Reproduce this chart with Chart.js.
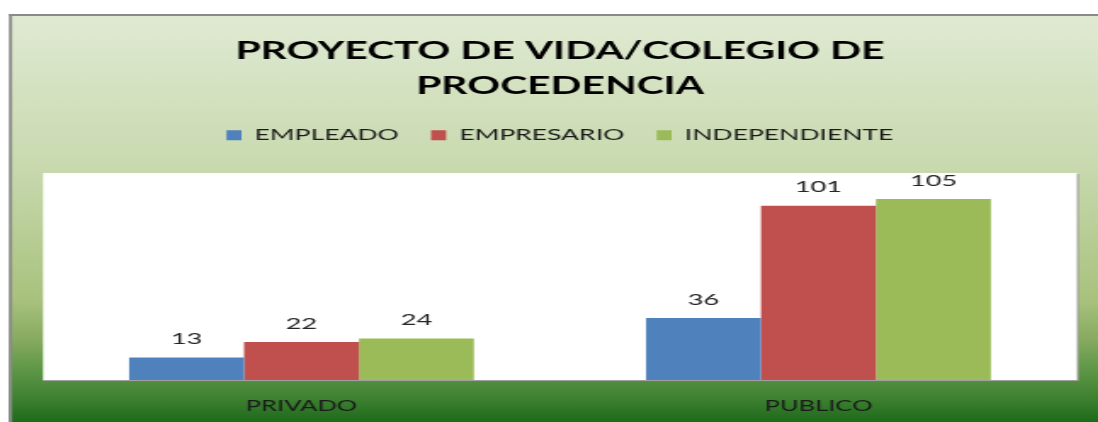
<!DOCTYPE html>
<html>
<head>
<meta charset="utf-8">
<script src="https://cdn.jsdelivr.net/npm/chart.js@4"></script>
<style>
  html, body { margin: 0; padding: 0; background: #fff; overflow: hidden; }
  #grafico { display: block; transform: scaleX(1.7); transform-origin: 0 0; }
</style>
</head>
<body>
<canvas id="grafico" width="646" height="422"></canvas>
<script>
// datos
const categorias = ['PRIVADO', 'PUBLICO'];
const empleado = [13, 36];
const empresario = [22, 101];
const independiente = [24, 105];

// fondo degradado + area blanca del grafico
const fondo = {
  id: 'fondo',
  beforeDraw(chart) {
    const ctx = chart.ctx;
    const a = chart.chartArea;
    ctx.save();
    ctx.fillStyle = '#fff';
    ctx.fillRect(0, 0, chart.width, chart.height);

    const g = ctx.createLinearGradient(0, 14, 0, 422);
    g.addColorStop(0, '#e0ead3');
    g.addColorStop(0.38, '#c8d9ae');
    g.addColorStop(0.70, '#a8c27d');
    g.addColorStop(0.80, '#86aa5f');
    g.addColorStop(0.87, '#5f9747');
    g.addColorStop(0.94, '#3f8232');
    g.addColorStop(1, '#1e6a1b');
    ctx.fillStyle = g;
    ctx.fillRect(5.3, 14, chart.width, chart.height);

    ctx.fillStyle = '#8a8a8a';
    ctx.fillRect(5.3, 14, chart.width, 2);
    ctx.fillRect(5.3, 14, 1.8, chart.height);

    ctx.fillStyle = '#9a9a9a';
    ctx.fillRect(a.left + 1, a.top + 1, a.right - a.left, a.bottom - a.top);
    ctx.fillStyle = '#fff';
    ctx.fillRect(a.left, a.top, a.right - a.left, a.bottom - a.top);
    ctx.restore();
  }
};

// etiquetas de valor sobre las barras
const etiquetas = {
  id: 'etiquetas',
  afterDatasetsDraw(chart) {
    const ctx = chart.ctx;
    ctx.save();
    ctx.font = '16px Lato';
    ctx.fillStyle = '#262626';
    ctx.textAlign = 'center';
    ctx.textBaseline = 'middle';
    chart.data.datasets.forEach((ds, i) => {
      chart.getDatasetMeta(i).data.forEach((bar, j) => {
        ctx.fillText(ds.data[j], bar.x, bar.y - 18.5);
      });
    });
    ctx.restore();
  }
};

const data = {
  labels: categorias,
  datasets: [
    { label: 'EMPLEADO', data: empleado, backgroundColor: '#4f81bd' },
    { label: 'EMPRESARIO', data: empresario, backgroundColor: '#c0504d' },
    { label: 'INDEPENDIENTE', data: independiente, backgroundColor: '#9bbb59' }
  ]
};

const config = {
  type: 'bar',
  data: data,
  options: {
    responsive: false,
    animation: false,
    categoryPercentage: 0.667,
    barPercentage: 1.0,
    layout: {
      padding: { left: 25.3, right: 12.5, top: 0, bottom: 8 }
    },
    plugins: {
      title: {
        display: true,
        text: ['PROYECTO DE VIDA/COLEGIO DE', 'PROCEDENCIA'],
        color: '#000',
        font: { family: 'Lato', size: 24, weight: 'bold', lineHeight: 1.44 },
        padding: { top: 34, bottom: 5.4 }
      },
      subtitle: {
        // espacio entre leyenda y area del grafico
        display: true,
        text: '',
        weight: 500,
        font: { size: 1 },
        padding: { top: 18.7, bottom: 0 }
      },
      legend: {
        labels: {
          color: '#1a1a1a',
          font: { family: 'Lato', size: 15.6 },
          boxWidth: 8.8,
          boxHeight: 10,
          padding: 19
        }
      },
      tooltip: { enabled: false }
    },
    scales: {
      x: {
        grid: { display: false, drawTicks: false },
        border: { display: true, color: '#a0a0a0', width: 1 },
        ticks: {
          color: '#1a1a1a',
          font: { family: 'Lato', size: 15 },
          padding: 17
        },
        afterFit: (scale) => { scale.height = 34; }
      },
      y: {
        display: false,
        min: 0,
        max: 120
      }
    }
  },
  plugins: [fondo, etiquetas]
};

const grafico = new Chart(document.getElementById('grafico'), config);
</script>
</body>
</html>
